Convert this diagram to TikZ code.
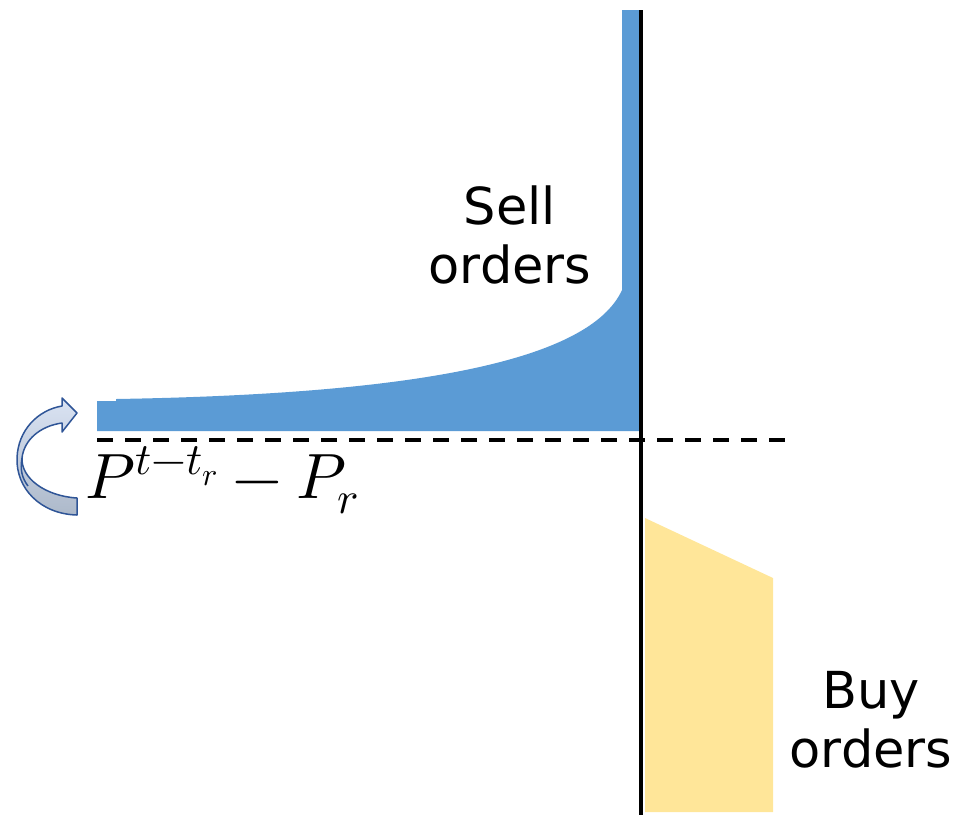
\documentclass[tikz,border=0pt]{standalone}
\usepackage{fontspec}
\setmainfont{DejaVu Sans}
\usepackage{unicode-math}
\setmathfont{Latin Modern Math}
\definecolor{sellblue}{HTML}{5B9BD5}
\definecolor{buyyellow}{HTML}{FFE699}
\definecolor{arrowline}{HTML}{2F5597}
\definecolor{arrowtop}{HTML}{DAE3F3}
\definecolor{arrowbot}{HTML}{ADB9CA}
\tikzset{
  lbl/.style={font=\fontsize{51}{59}\selectfont, align=center, inner sep=0pt},
  axisline/.style={line width=4.5pt, black},
  midline/.style={line width=3.5pt, dash pattern=on 16pt off 12pt, black},
}
\begin{document}
\begin{tikzpicture}[x=1pt,y=-1pt]
\useasboundingbox (0,0) rectangle (958,815);
% sell orders area
\fill[sellblue] (622,10) -- (639,10) -- (639,431) -- (97,431) -- (97,401) -- (116,401) -- (116,399)
  .. controls (420,394) and (590,360) .. (622,290) -- cycle;
% buy orders area
\fill[buyyellow] (645,518) -- (773,578) -- (773,812) -- (645,812) -- cycle;
% dashed price line
\coordinate (dl) at (97,440);
\coordinate (dr) at (789,440);
\draw[midline] (dl) -- (dr);
% vertical axis
\coordinate (at) at (641,10);
\coordinate (ab) at (641,815);
\draw[axisline] (at) -- (ab);
% curved arrow
\shade[top color=arrowtop, bottom color=arrowbot, draw=arrowline, line width=1.5pt, line join=round]
  (77,515) .. controls (40,514) and (16,488) .. (17,458)
  .. controls (18,430) and (38,410) .. (62,406)
  -- (62,398) -- (77,413) -- (62,432) -- (62,423)
  .. controls (40,426) and (24,440) .. (22,458)
  .. controls (21,478) and (45,496) .. (77,498) -- cycle;
\draw[arrowline, line width=1.5pt] (22,458) .. controls (20,470) and (22,478) .. (28,486);
% labels
\node[lbl] (sell) at (510,235) {Sell\\orders};
\node[lbl] (buy) at (871,720) {Buy\\orders};
\node[inner sep=0pt, anchor=base west, font=\fontsize{64}{74}\selectfont] (price) at (85,498) {$P^{t-t_r}-P_r$};
\end{tikzpicture}
\end{document}
